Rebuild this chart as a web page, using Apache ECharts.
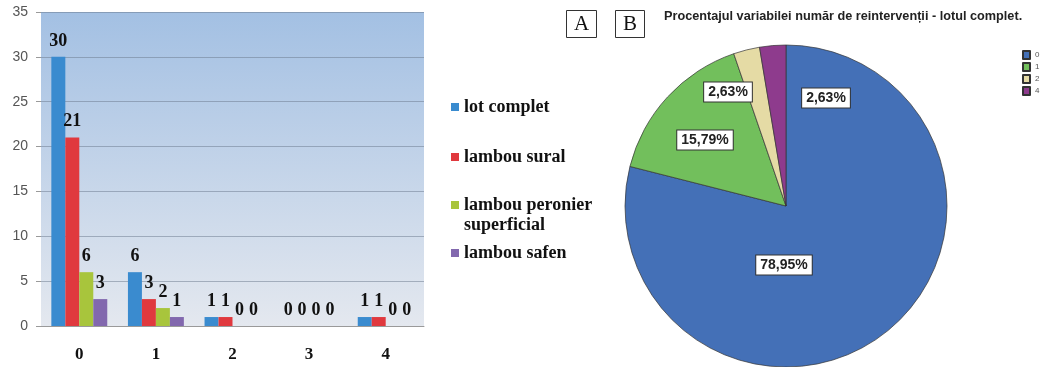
<!DOCTYPE html>
<html>
<head>
<meta charset="utf-8">
<script src="https://cdn.jsdelivr.net/npm/echarts@6/dist/echarts.min.js"></script>
<style>
  html, body { margin: 0; padding: 0; background: #fff; }
  #main { width: 1049px; height: 367px; }
</style>
</head>
<body>
<div id="main"></div>
<script>
// bar chart (A)
const categories = ["0", "1", "2", "3", "4"];
const lotComplet = [30, 6, 1, 0, 1];
const lambouSural = [21, 3, 1, 0, 1];
const lambouPeronier = [6, 2, 0, 0, 0];
const lambouSafen = [3, 1, 0, 0, 0];
const barNames = ["lot complet", "lambou sural", "lambou peronier superficial", "lambou safen"];

// pie chart (B)
const pieNames = ["0", "1", "2", "4"];
const pieValues = [78.95, 15.79, 2.63, 2.63];

const barColors = ["#3a8bcf", "#e0393e", "#a8c53c", "#8268ae"];
const pieColors = ["#4470b7", "#72bf5c", "#e5dba5", "#8e3b8d"];

const serif = "'Liberation Serif', 'Times New Roman', serif";
const sans = "'Liberation Sans', Arial, sans-serif";

// pie geometry & label placement (relative to pie centre)
const pieCx = 786, pieCy = 206;
const labelSpots = [[-2, 59], [-81, -66], [-58, -114], [40, -108]];

// legend rows of chart A (top of each legend block)
const legendTops = [97, 147, 175, 243];

const chart = echarts.init(document.getElementById("main"));

function barSeries(name, data, color) {
  return {
    name: name,
    type: "bar",
    data: data,
    barGap: "0%",
    barCategoryGap: "27%",
    itemStyle: { color: color },
    label: {
      show: true,
      position: "top",
      distance: 7,
      color: "#111",
      fontFamily: serif,
      fontWeight: "bold",
      fontSize: 18,
    },
  };
}

function barLegend(i) {
  return {
    data: [barNames[i]],
    orient: "vertical",
    left: 451,
    top: legendTops[i],
    padding: 0,
    itemWidth: 8,
    itemHeight: 8,
    itemGap: 0,
    icon: "rect",
    formatter: function (n) {
      // blank first line keeps the icon level with "lambou peronier"
      return n === "lambou peronier superficial" ? " \nlambou peronier\nsuperficial" : n;
    },
    textStyle: { fontFamily: serif, fontWeight: "bold", fontSize: 18, color: "#111", lineHeight: 20 },
  };
}

const boxText = { fontFamily: serif, fontSize: 21, fontWeight: "normal", color: "#111", lineHeight: 22 };

chart.setOption({
  animation: false,
  backgroundColor: "#fff",
  title: [
    { text: "A", left: 566, top: 10, padding: [3, 8, 3, 8], borderWidth: 1, borderColor: "#333", textStyle: boxText },
    { text: "B", left: 615, top: 10, padding: [3, 8, 3, 8], borderWidth: 1, borderColor: "#333", textStyle: boxText },
    {
      text: "Procentajul variabilei număr de reintervenții - lotul complet.",
      left: 664,
      top: 10,
      padding: 0,
      textStyle: { fontFamily: sans, fontSize: 12.7, fontWeight: "bold", color: "#222" },
    },
  ],
  legend: [
    barLegend(0),
    barLegend(1),
    barLegend(2),
    barLegend(3),
    {
      data: pieNames,
      orient: "vertical",
      left: 1022,
      top: 50,
      padding: 0,
      itemGap: 2,
      itemWidth: 7,
      itemHeight: 8,
      icon: "rect",
      textStyle: { fontFamily: sans, fontSize: 8, color: "#555" },
    },
  ],
  grid: {
    left: 41,
    top: 12,
    width: 383,
    height: 314,
    show: true,
    borderWidth: 0,
    backgroundColor: new echarts.graphic.LinearGradient(0, 0, 0, 1, [
      { offset: 0, color: "#a3c0e3" },
      { offset: 1, color: "#e4e8ef" },
    ]),
  },
  xAxis: {
    type: "category",
    data: categories,
    axisLine: { lineStyle: { color: "#9a9a9a" } },
    axisTick: { length: 6, lineStyle: { color: "#9a9a9a" } },
    axisLabel: { margin: 20, fontFamily: serif, fontWeight: "bold", fontSize: 17, color: "#111" },
  },
  yAxis: {
    type: "value",
    min: 0,
    max: 35,
    interval: 5,
    axisLine: { show: false },
    axisTick: { show: true, length: 5, lineStyle: { color: "#9a9a9a" } },
    axisLabel: { margin: 13, fontFamily: sans, fontSize: 14, color: "#555" },
    splitLine: { lineStyle: { color: "rgba(105,120,140,0.5)" } },
  },
  series: [
    barSeries(barNames[0], lotComplet, barColors[0]),
    barSeries(barNames[1], lambouSural, barColors[1]),
    barSeries(barNames[2], lambouPeronier, barColors[2]),
    barSeries(barNames[3], lambouSafen, barColors[3]),
    {
      type: "pie",
      center: [pieCx, pieCy],
      radius: 161,
      startAngle: 90,
      clockwise: true,
      silent: true,
      data: pieNames.map(function (n, i) {
        return {
          name: n,
          value: pieValues[i],
          itemStyle: { color: pieColors[i] },
          labelLine: { show: i === 3 },
        };
      }),
      itemStyle: { borderColor: "#333", borderWidth: 0.7 },
      label: {
        show: true,
        position: "outside",
        formatter: function (p) {
          return p.value.toFixed(2).replace(".", ",") + "%";
        },
        fontFamily: sans,
        fontWeight: "bold",
        fontSize: 14,
        color: "#222",
        backgroundColor: "#fff",
        borderColor: "#333",
        borderWidth: 1,
        padding: [3, 4, 2, 4],
      },
      labelLine: { lineStyle: { color: "#333", width: 0.8 } },
      labelLayout: function (p) {
        const s = labelSpots[p.dataIndex];
        const out = {
          x: pieCx + s[0],
          y: pieCy + s[1],
          align: "center",
          verticalAlign: "middle",
        };
        if (p.dataIndex === 3) {
          out.labelLinePoints = [
            [pieCx - 5, pieCy - 79],
            [pieCx + 17, pieCy - 97],
            [pieCx + 17, pieCy - 97],
          ];
        }
        return out;
      },
    },
  ],
});
</script>
</body>
</html>
